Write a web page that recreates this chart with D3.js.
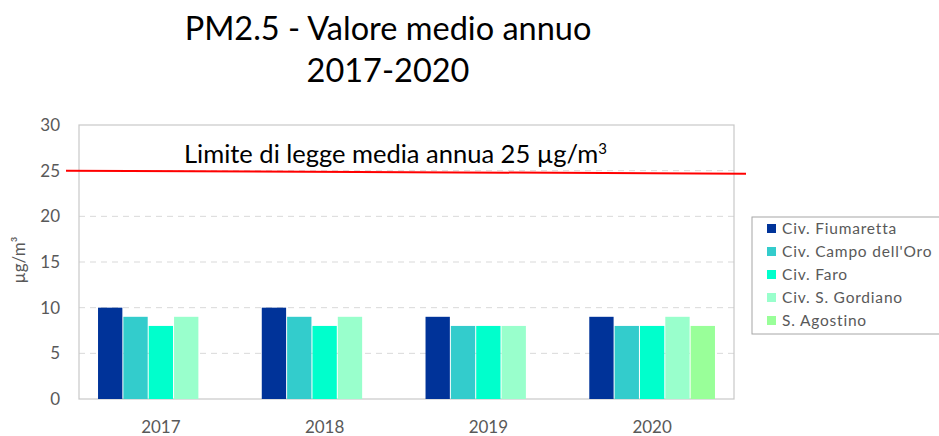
<!DOCTYPE html>
<html>
<head>
<meta charset="utf-8">
<script src="https://cdn.jsdelivr.net/npm/d3@7"></script>
<style>
  body { margin: 0; background: #fff; }
  svg { display: block; font-family: Lato, "Open Sans", sans-serif; }
</style>
</head>
<body>
<div id="chart"></div>
<script>
// chart data
const years = ["2017", "2018", "2019", "2020"];
const stations = ["Civ. Fiumaretta", "Civ. Campo dell'Oro", "Civ. Faro", "Civ. S. Gordiano", "S. Agostino"];
const colors = ["#003399", "#33CCCC", "#00FFCC", "#99FFCC", "#99FF99"];
const fiumaretta = [10, 10, 9, 9];
const campoOro = [9, 9, 8, 8];
const faro = [8, 8, 8, 8];
const gordiano = [9, 9, 8, 9];
const agostino = [null, null, null, 8];
const yTicks = [0, 5, 10, 15, 20, 25, 30];
const limitValue = 25;

const seriesValues = [fiumaretta, campoOro, faro, gordiano, agostino];

const W = 939, H = 436;
const margin = { top: 125, right: 205, bottom: 37, left: 79 };
const width = W - margin.left - margin.right;
const height = H - margin.top - margin.bottom;

const svg = d3.select("#chart").append("svg")
    .attr("width", W)
    .attr("height", H);

// title
svg.append("text")
    .attr("x", 388).attr("y", 40)
    .attr("text-anchor", "middle")
    .attr("font-size", 32.5)
    .attr("fill", "#000")
    .text("PM2.5 - Valore medio annuo");
svg.append("text")
    .attr("x", 388).attr("y", 82)
    .attr("text-anchor", "middle")
    .attr("font-size", 32.5)
    .attr("fill", "#000")
    .text("2017-2020");

const g = svg.append("g")
    .attr("transform", `translate(${margin.left},${margin.top})`);

const x0 = d3.scaleBand().domain(years).range([0, width]).paddingInner(0).paddingOuter(0);
const groupW = x0.bandwidth() * 0.78;
const x1 = d3.scaleBand().domain(stations).range([0, groupW]).padding(0.04);
const y = d3.scaleLinear().domain([0, 30]).range([height, 0]);

// gridlines
g.selectAll(".grid")
    .data(yTicks.filter(t => t > 0 && t < 30))
    .enter().append("line")
    .attr("x1", 0).attr("x2", width)
    .attr("y1", d => y(d)).attr("y2", d => y(d))
    .attr("stroke", "#d9d9d9")
    .attr("stroke-dasharray", "6,5");

// plot border
g.append("rect")
    .attr("width", width).attr("height", height)
    .attr("fill", "none")
    .attr("stroke", "#c8c8c8")
    .attr("stroke-width", 1.2);

// y tick labels
g.selectAll(".ytick")
    .data(yTicks)
    .enter().append("text")
    .attr("x", -19)
    .attr("y", d => y(d))
    .attr("dy", "0.35em")
    .attr("text-anchor", "end")
    .attr("font-size", 17)
    .attr("fill", "#595959")
    .text(d => d);

// x tick labels
g.selectAll(".xtick")
    .data(years)
    .enter().append("text")
    .attr("x", d => x0(d) + x0.bandwidth() / 2)
    .attr("y", height + 34)
    .attr("text-anchor", "middle")
    .attr("font-size", 17)
    .attr("fill", "#595959")
    .text(d => d);

// y label
svg.append("text")
    .attr("transform", `translate(25,${margin.top + height / 2 - 2}) rotate(-90)`)
    .attr("text-anchor", "middle")
    .attr("font-size", 17)
    .attr("fill", "#595959")
    .text("µg/m³");

// bars
const barData = [];
years.forEach((yr, i) => {
    stations.forEach((st, j) => {
        const v = seriesValues[j][i];
        if (v != null) barData.push({ year: yr, station: st, value: v, color: colors[j] });
    });
});

g.selectAll(".bar")
    .data(barData)
    .enter().append("rect")
    .attr("class", "bar")
    .attr("x", d => x0(d.year) + (x0.bandwidth() - groupW) / 2 + x1(d.station))
    .attr("y", d => y(d.value))
    .attr("width", x1.bandwidth())
    .attr("height", d => height - y(d.value))
    .attr("fill", d => d.color);

// limit line
const tilt = 3;
g.append("line")
    .attr("x1", -13).attr("x2", width + 12)
    .attr("y1", y(limitValue)).attr("y2", y(limitValue) + tilt)
    .attr("stroke", "#ff0000")
    .attr("stroke-width", 2);

g.append("text")
    .attr("x", x0.range()[1] / 2 - 11)
    .attr("y", y(limitValue) - 8)
    .attr("text-anchor", "middle")
    .attr("font-size", 25.5)
    .attr("fill", "#000")
    .html("Limite di legge media annua 25 µg/m<tspan dy='-9' font-size='15'>3</tspan>");

// legend
const legend = svg.append("g").attr("transform", "translate(752,217)");
legend.append("rect")
    .attr("width", 200).attr("height", 117)
    .attr("fill", "#fff")
    .attr("stroke", "#a6a6a6");

const item = legend.selectAll(".item")
    .data(stations)
    .enter().append("g")
    .attr("transform", (d, i) => `translate(15,${12 + i * 23})`);
item.append("rect")
    .attr("y", -5)
    .attr("width", 9).attr("height", 9)
    .attr("fill", (d, i) => colors[i]);
item.append("text")
    .attr("x", 15)
    .attr("dy", "0.35em")
    .attr("font-size", 15.5)
    .attr("letter-spacing", 0.8)
    .attr("fill", "#595959")
    .text(d => d);
</script>
</body>
</html>
